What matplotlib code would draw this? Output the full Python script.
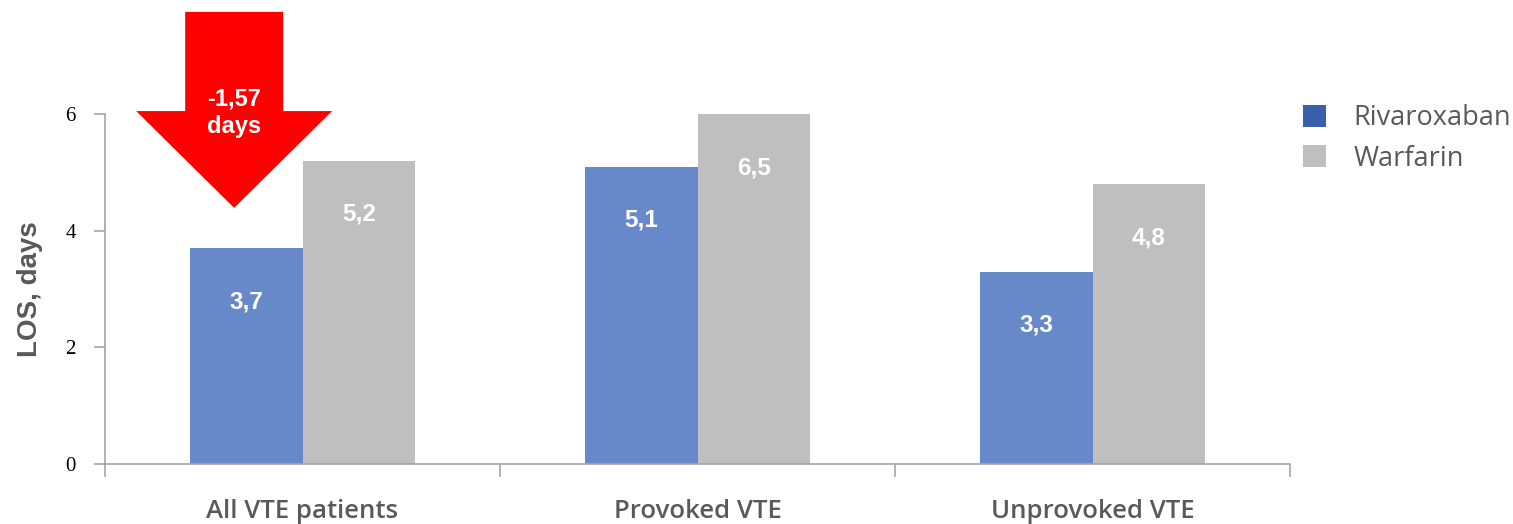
import matplotlib
matplotlib.use("Agg")
import matplotlib.pyplot as plt
from matplotlib.patches import Polygon, Patch
import numpy as np

categories = ["All VTE patients", "Provoked VTE", "Unprovoked VTE"]
rivaroxaban = [3.7, 5.1, 3.3]
warfarin = [5.2, 6.5, 4.8]
series_names = ["Rivaroxaban", "Warfarin"]
y_ticks = [0, 2, 4, 6]
difference_label = "-1,57\ndays"

BAR_BLUE = "#6788C9"
LEGEND_BLUE = "#3A5EAC"
BAR_GRAY = "#BFBFBF"
TEXT_GRAY = "#595959"
AXIS_GRAY = "#A6A6A6"

fig = plt.figure(figsize=(15.13, 5.24), dpi=100)
ax = fig.add_axes([105 / 1513, 60 / 524, 1185 / 1513, 350 / 524])

x = np.arange(len(categories))
width = 0.286
ax.bar(x - width / 2, rivaroxaban, width, color=BAR_BLUE, zorder=2)
ax.bar(x + width / 2, warfarin, width, color=BAR_GRAY, zorder=2)

ymax = 6
ax.set_ylim(0, ymax)
ax.set_xlim(-0.5, len(categories) - 0.5)

def fmt(v):
    return f"{v:.1f}".replace(".", ",")

offset = 0.92
for xi, v in zip(x - width / 2, rivaroxaban):
    ax.text(xi, min(v, ymax) - offset, fmt(v), ha="center", va="center",
            color="white", fontsize=17.5, fontweight="bold",
            family="Liberation Sans", zorder=3)
for xi, v in zip(x + width / 2, warfarin):
    ax.text(xi, min(v, ymax) - offset, fmt(v), ha="center", va="center",
            color="white", fontsize=17.5, fontweight="bold",
            family="Liberation Sans", zorder=3)

# axes styling
for side in ("top", "right"):
    ax.spines[side].set_visible(False)
for side in ("left", "bottom"):
    ax.spines[side].set_color(AXIS_GRAY)
    ax.spines[side].set_linewidth(1.2)

ax.set_yticks(y_ticks)
ax.set_yticklabels([str(t) for t in y_ticks], family="Liberation Serif",
                   fontsize=15, color="black")
ax.tick_params(axis="y", direction="out", length=8, width=1.2,
               color=AXIS_GRAY, pad=13)

# category boundaries as major ticks, names as minor ticks
ax.set_xticks(np.arange(-0.5, len(categories), 1.0))
ax.set_xticklabels([])
ax.tick_params(axis="x", which="major", direction="out", length=9,
               width=1.2, color=AXIS_GRAY)
ax.set_xticks(x, minor=True)
ax.set_xticklabels(categories, minor=True, family="Open Sans",
                   fontsize=18.5, fontweight="semibold", color=TEXT_GRAY)
ax.tick_params(axis="x", which="minor", length=0, pad=25)

ax.set_ylabel("LOS, days", family="Liberation Sans", fontweight="bold",
              fontsize=20, color=TEXT_GRAY, labelpad=16)

# legend
handles = [Patch(facecolor=LEGEND_BLUE, edgecolor="none"),
           Patch(facecolor=BAR_GRAY, edgecolor="none")]
fig.legend(handles, series_names, loc="upper left",
           bbox_to_anchor=(1279 / 1513, 1 - 80 / 524), frameon=False,
           prop={"family": "Open Sans", "size": 19.5},
           labelcolor=TEXT_GRAY, handlelength=0.85, handleheight=0.85,
           handletextpad=1.0, labelspacing=0.45)

# red arrow showing the reduction
cx = -0.173
shaft_half = 0.124
head_half = 0.248
y_top, y_base, y_tip = 7.75, 6.05, 4.39
arrow = Polygon([(cx - shaft_half, y_top), (cx + shaft_half, y_top),
                 (cx + shaft_half, y_base), (cx + head_half, y_base),
                 (cx, y_tip), (cx - head_half, y_base),
                 (cx - shaft_half, y_base)],
                closed=True, facecolor="#FF0000", edgecolor="none",
                clip_on=False, zorder=4)
ax.add_patch(arrow)
ax.text(cx, 6.03, difference_label, ha="center", va="center", color="white",
        fontsize=17, fontweight="bold", family="Liberation Sans",
        linespacing=1.25, zorder=5, clip_on=False)

fig.savefig("out.png", dpi=100)
